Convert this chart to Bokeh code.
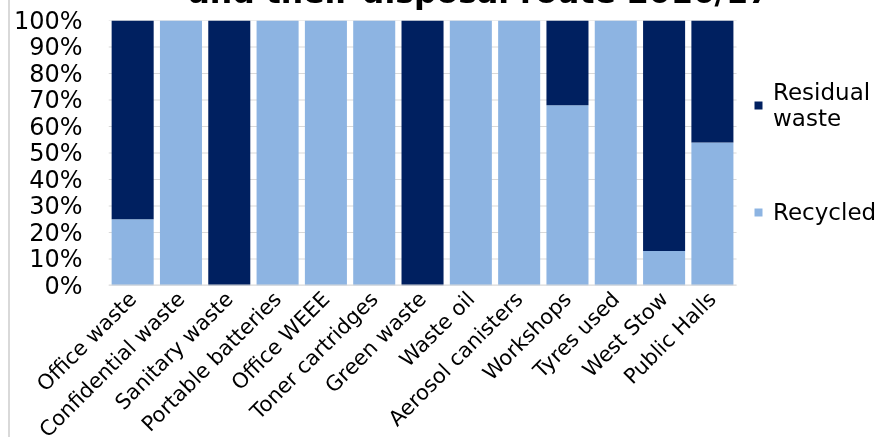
from bokeh.plotting import figure
from bokeh.models import ColumnDataSource, FixedTicker, PrintfTickFormatter, Legend, LegendItem, Title, Range1d
from bokeh.embed import file_html
from bokeh.resources import INLINE
import math

categories = ["Office waste", "Confidential waste", "Sanitary waste", "Portable batteries",
              "Office WEEE", "Toner cartridges", "Green waste", "Waste oil",
              "Aerosol canisters", "Workshops", "Tyres used", "West Stow", "Public Halls"]
recycled = [25, 100, 0, 100, 100, 100, 0, 100, 100, 68, 100, 13, 54]
residual = [100 - r for r in recycled]
y_ticks = [0, 10, 20, 30, 40, 50, 60, 70, 80, 90, 100]
title_text = "and their disposal route 2016/17"

DARK = "#002060"
LIGHT = "#8DB4E2"
GRID = "#d9d9d9"
FONT = "DejaVu Sans"

n = len(categories)
x_pos = [i + 0.5 for i in range(n)]
source = ColumnDataSource(dict(x=x_pos, cat=categories, Recycled=recycled, Residual=residual))

# frame spans to the right edge so the legend (inside the frame) is not clipped
p = figure(x_range=Range1d(0, 16.0), y_range=Range1d(0, 100), width=871, height=545,
           output_backend="svg", toolbar_location=None,
           min_border_left=98, min_border_right=0, min_border_top=80, min_border_bottom=200)
p.styles = {"position": "fixed", "top": "-60px", "left": "8px",
            "border-left": "2px solid #d9d9d9"}

p.outline_line_color = None
p.background_fill_color = "white"
p.border_fill_color = "white"
p.xgrid.grid_line_color = None
p.ygrid.grid_line_color = None

# horizontal gridlines across the category area
p.segment(x0=[0] * len(y_ticks), x1=[n] * len(y_ticks), y0=y_ticks, y1=y_ticks,
          line_color=GRID, line_width=1)

rs = p.vbar_stack(["Recycled", "Residual"], x="x", width=0.87, source=source,
                  color=[LIGHT, DARK], line_color=None)

# category axis line
p.segment(x0=[0], x1=[n], y0=[0], y1=[0], line_color=GRID, line_width=2)

p.title = Title(text=title_text, align="left", offset=80, standoff=22,
                text_font=FONT, text_font_style="bold", text_font_size="31.5px",
                text_color="black")

p.yaxis.ticker = FixedTicker(ticks=y_ticks)
p.yaxis.formatter = PrintfTickFormatter(format="%d%%")
p.yaxis.axis_line_color = None
p.yaxis.major_tick_line_color = None
p.yaxis.minor_tick_line_color = None
p.yaxis.major_label_text_font = FONT
p.yaxis.major_label_text_font_size = "24px"
p.yaxis.major_label_text_color = "black"
p.yaxis.major_label_standoff = 20

p.xaxis.ticker = FixedTicker(ticks=x_pos)
p.xaxis.major_label_overrides = {x: c for x, c in zip(x_pos, categories)}
p.xaxis.axis_line_color = None
p.xaxis.major_tick_line_color = None
p.xaxis.minor_tick_line_color = None
p.xaxis.major_label_orientation = math.pi / 4
p.xaxis.major_label_text_font = FONT
p.xaxis.major_label_text_font_size = "21px"
p.xaxis.major_label_text_color = "black"
p.xaxis.major_label_standoff = 4

legend = Legend(items=[LegendItem(label="Residual\nwaste", renderers=[rs[1]]),
                       LegendItem(label="Recycled", renderers=[rs[0]])],
                location=(645, 60), glyph_width=10, glyph_height=10, label_standoff=10,
                label_text_font=FONT, label_text_font_size="23px", label_text_color="black",
                border_line_color=None, background_fill_alpha=0,
                padding=0, margin=0, spacing=68)
p.add_layout(legend)

open("out.html", "w").write(file_html(p, INLINE))
